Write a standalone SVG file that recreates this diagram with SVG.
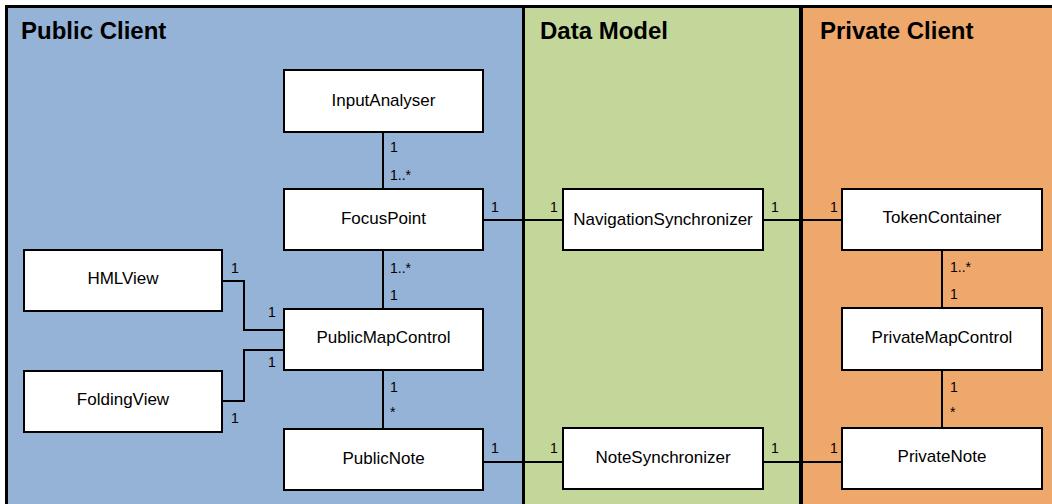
<svg xmlns="http://www.w3.org/2000/svg" width="1052" height="504" viewBox="0 0 1052 504">
<style>
.box{fill:#fff;stroke:#000;stroke-width:2}
.lbl{font-family:"Liberation Sans",Arial,sans-serif;font-size:17px;text-anchor:middle;dominant-baseline:central;fill:#000}
.m{font-family:"Liberation Sans",Arial,sans-serif;font-size:14px;fill:#000}
.t{font-family:"Liberation Sans",Arial,sans-serif;font-size:24px;font-weight:bold;fill:#000}
.c{fill:none;stroke:#000;stroke-width:2}
</style>
<g id="panels">
<rect x="6.5" y="6.5" width="517" height="500" fill="#95B3D7"/>
<rect x="523.5" y="6.5" width="277.5" height="500" fill="#C4D79B"/>
<rect x="801" y="6.5" width="260" height="500" fill="#EFA86C"/>
<path d="M6.5 510 V6.5 H1060" fill="none" stroke="#000" stroke-width="3"/>
<line x1="523.5" y1="6.5" x2="523.5" y2="510" stroke="#000" stroke-width="3"/>
<line x1="801" y1="6.5" x2="801" y2="510" stroke="#000" stroke-width="4"/>
<text class="t" x="21" y="39">Public Client</text>
<text class="t" x="540" y="39">Data Model</text>
<text class="t" x="820" y="39">Private Client</text>
</g>
<g id="connectors">
<line class="c" x1="383" y1="132" x2="383" y2="189"/>
<line class="c" x1="383" y1="250" x2="383" y2="309"/>
<line class="c" x1="383" y1="370" x2="383" y2="429"/>
<line class="c" x1="483" y1="220" x2="563" y2="220"/>
<line class="c" x1="763" y1="220" x2="842" y2="220"/>
<line class="c" x1="483" y1="462" x2="563" y2="462"/>
<line class="c" x1="763" y1="462" x2="842" y2="462"/>
<line class="c" x1="942" y1="250" x2="942" y2="308"/>
<line class="c" x1="942" y1="370" x2="942" y2="428"/>
<polyline class="c" points="222,281 244,281 244,330 284,330"/>
<polyline class="c" points="284,350 244,350 244,401 222,401"/>
<text class="m" x="390" y="152">1</text>
<text class="m" x="390" y="180">1..*</text>
<text class="m" x="390" y="273">1..*</text>
<text class="m" x="390" y="300">1</text>
<text class="m" x="390" y="392">1</text>
<text class="m" x="390" y="417">*</text>
<text class="m" x="231" y="273">1</text>
<text class="m" x="268" y="317">1</text>
<text class="m" x="268" y="367">1</text>
<text class="m" x="231" y="423">1</text>
<text class="m" x="491" y="212">1</text>
<text class="m" x="550" y="212">1</text>
<text class="m" x="771" y="212">1</text>
<text class="m" x="830" y="212">1</text>
<text class="m" x="491" y="453">1</text>
<text class="m" x="550" y="453">1</text>
<text class="m" x="771" y="453">1</text>
<text class="m" x="830" y="453">1</text>
<text class="m" x="950" y="272">1..*</text>
<text class="m" x="950" y="299">1</text>
<text class="m" x="950" y="392">1</text>
<text class="m" x="950" y="417">*</text>
</g>
<g id="InputAnalyser"><rect class="box" x="284" y="70" width="199" height="62"/><text class="lbl" x="383.5" y="100">InputAnalyser</text></g>
<g id="FocusPoint"><rect class="box" x="284" y="189" width="199" height="61"/><text class="lbl" x="383.5" y="218">FocusPoint</text></g>
<g id="PublicMapControl"><rect class="box" x="284" y="309" width="199" height="61"/><text class="lbl" x="383.5" y="337">PublicMapControl</text></g>
<g id="PublicNote"><rect class="box" x="284" y="429" width="199" height="61"/><text class="lbl" x="383.5" y="458">PublicNote</text></g>
<g id="HMLView"><rect class="box" x="24" y="250" width="198" height="61"/><text class="lbl" x="123" y="278">HMLView</text></g>
<g id="FoldingView"><rect class="box" x="24" y="371" width="198" height="61"/><text class="lbl" x="123" y="399">FoldingView</text></g>
<g id="NavigationSynchronizer"><rect class="box" x="563" y="189" width="200" height="61"/><text class="lbl" x="663" y="219">NavigationSynchronizer</text></g>
<g id="NoteSynchronizer"><rect class="box" x="563" y="428" width="200" height="61"/><text class="lbl" x="663" y="457">NoteSynchronizer</text></g>
<g id="TokenContainer"><rect class="box" x="842" y="189" width="200" height="61"/><text class="lbl" x="942" y="217">TokenContainer</text></g>
<g id="PrivateMapControl"><rect class="box" x="842" y="308" width="200" height="62"/><text class="lbl" x="942" y="337">PrivateMapControl</text></g>
<g id="PrivateNote"><rect class="box" x="842" y="428" width="200" height="61"/><text class="lbl" x="942" y="456">PrivateNote</text></g>
</svg>
